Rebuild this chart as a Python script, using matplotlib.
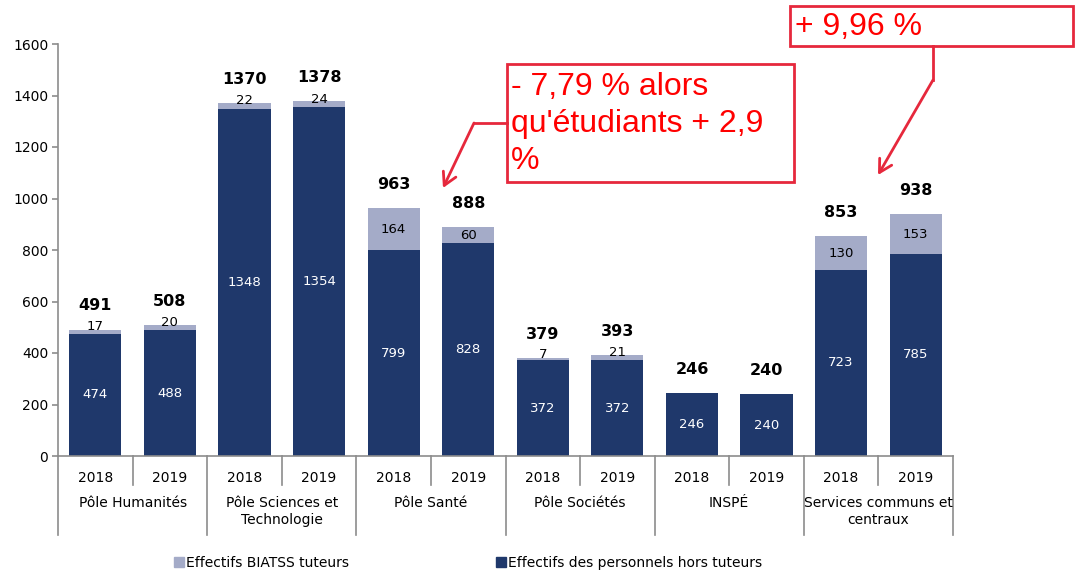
import matplotlib
matplotlib.use("Agg")
import matplotlib.pyplot as plt
import matplotlib.transforms as mtransforms
from matplotlib.lines import Line2D
from matplotlib.patches import Rectangle, Patch, FancyArrowPatch
import numpy as np

plt.rcParams['font.family'] = ['DejaVu Sans']

groups = ["Pôle Humanités", "Pôle Sciences et\nTechnologie", "Pôle Santé",
          "Pôle Sociétés", "INSPÉ", "Services communs et\ncentraux"]
years = ["2018", "2019"]
hors_tuteurs = [474, 488, 1348, 1354, 799, 828, 372, 372, 246, 240, 723, 785]
biatss_tuteurs = [17, 20, 22, 24, 164, 60, 7, 21, 0, 0, 130, 153]
totals = [491, 508, 1370, 1378, 963, 888, 379, 393, 246, 240, 853, 938]
yticks = [0, 200, 400, 600, 800, 1000, 1200, 1400, 1600]

DARK = "#1F386B"
LIGHT = "#A4ABC8"
GRAY = "#8C8C8C"
RED_BOX = "#E6283C"
RED_TXT = "#FF0000"

W, H = 1076, 576
fig = plt.figure(figsize=(W / 100, H / 100), dpi=100)
ax = fig.add_axes([58 / W, 1 - 456 / H, (953 - 58) / W, (456 - 44) / H])

x = np.arange(len(hors_tuteurs))
bw = 0.70
ax.bar(x, hors_tuteurs, width=bw, color=DARK, zorder=2)
ax.bar(x, biatss_tuteurs, width=bw, bottom=hors_tuteurs, color=LIGHT, zorder=2)

ax.set_xlim(-0.5, len(x) - 0.5)
ax.set_ylim(0, 1600)
ax.set_yticks(yticks)
ax.set_yticklabels([str(v) for v in yticks], fontsize=10)
ax.set_xticks([])
for s in ["top", "right"]:
    ax.spines[s].set_visible(False)
for s in ["left", "bottom"]:
    ax.spines[s].set_color(GRAY)
    ax.spines[s].set_linewidth(1.2)
ax.tick_params(axis="y", length=4, color=GRAY, width=1.2, pad=3)

# value labels
for i in range(len(x)):
    h = hors_tuteurs[i]
    b = biatss_tuteurs[i]
    ax.text(x[i], h / 2, str(h), ha="center", va="center", color="white", fontsize=9.5, zorder=3)
    if b > 0:
        ax.text(x[i], h + b / 2 + (20 if b < 40 else 0), str(b), ha="center", va="center",
                color="black", fontsize=9.5, zorder=3)
    ax.annotate(str(totals[i]), (x[i], totals[i]), xytext=(0, 17), textcoords="offset points",
                ha="center", va="center", fontsize=11.5, fontweight="bold", color="black")

# multi-level category axis
ph = 456 - 44
trans = mtransforms.blended_transform_factory(ax.transData, ax.transAxes)
for i in range(len(x)):
    ax.text(x[i], -(478 - 456) / ph, years[i % 2], transform=trans, ha="center", va="center",
            fontsize=10)
for g, name in enumerate(groups):
    ax.text(2 * g + 0.5, -(496 - 456) / ph, name, transform=trans, ha="center", va="top",
            fontsize=10, linespacing=1.25)
for g in range(len(groups)):
    xs = 2 * g + 0.5
    ax.add_line(Line2D([xs, xs], [0, -(485 - 456) / ph], transform=trans, color=GRAY,
                       lw=1.2, clip_on=False))
for g in range(len(groups) + 1):
    xb = 2 * g - 0.5
    ax.add_line(Line2D([xb, xb], [0, -(535 - 456) / ph], transform=trans, color=GRAY,
                       lw=1.2, clip_on=False))

# legend
fig.legend(handles=[Patch(color=LIGHT, label="Effectifs BIATSS tuteurs")],
           loc="center left", bbox_to_anchor=(174 / W, 1 - 563 / H), frameon=False,
           handlelength=0.7, handleheight=0.7, handletextpad=0.15, fontsize=10,
           borderpad=0, borderaxespad=0)
fig.legend(handles=[Patch(color=DARK, label="Effectifs des personnels hors tuteurs")],
           loc="center left", bbox_to_anchor=(496 / W, 1 - 563 / H), frameon=False,
           handlelength=0.7, handleheight=0.7, handletextpad=0.15, fontsize=10,
           borderpad=0, borderaxespad=0)


def px(xp, yp):
    return (xp / W, 1 - yp / H)


def polyline(points):
    fig.lines.append(Line2D([px(*p)[0] for p in points], [px(*p)[1] for p in points],
                            transform=fig.transFigure, color=RED_BOX, lw=2, zorder=6))


def arrow(p0, p1):
    fig.add_artist(FancyArrowPatch(px(*p0), px(*p1), transform=fig.transFigure,
                                   arrowstyle="->,head_length=9,head_width=5",
                                   color=RED_BOX, lw=2, zorder=6, shrinkA=0, shrinkB=0))


def box(l, t, r, b):
    x0, y0 = px(l, b)
    x1, y1 = px(r, t)
    fig.patches.append(Rectangle((x0, y0), x1 - x0, y1 - y0, transform=fig.transFigure,
                                 fill=True, facecolor="white", edgecolor=RED_BOX, lw=2,
                                 zorder=5))


# annotation box 1
box(507, 64, 794, 182)
for k, line in enumerate(["- 7,79 % alors", "qu'étudiants + 2,9", "%"]):
    fig.text(*px(511, 87 + 37 * k), line, ha="left", va="center", color=RED_TXT,
             fontsize=23, family="Liberation Sans", zorder=7)
polyline([(507, 123), (474, 123)])
arrow((474, 123), (443, 188))

# annotation box 2
box(790, 6, 1073, 46)
fig.text(*px(795, 27), "+ 9,96 %", ha="left", va="center", color=RED_TXT, fontsize=23,
         family="Liberation Sans", zorder=7)
polyline([(933, 46), (933, 80)])
arrow((933, 80), (878, 175))

fig.savefig("out.png", dpi=100)
